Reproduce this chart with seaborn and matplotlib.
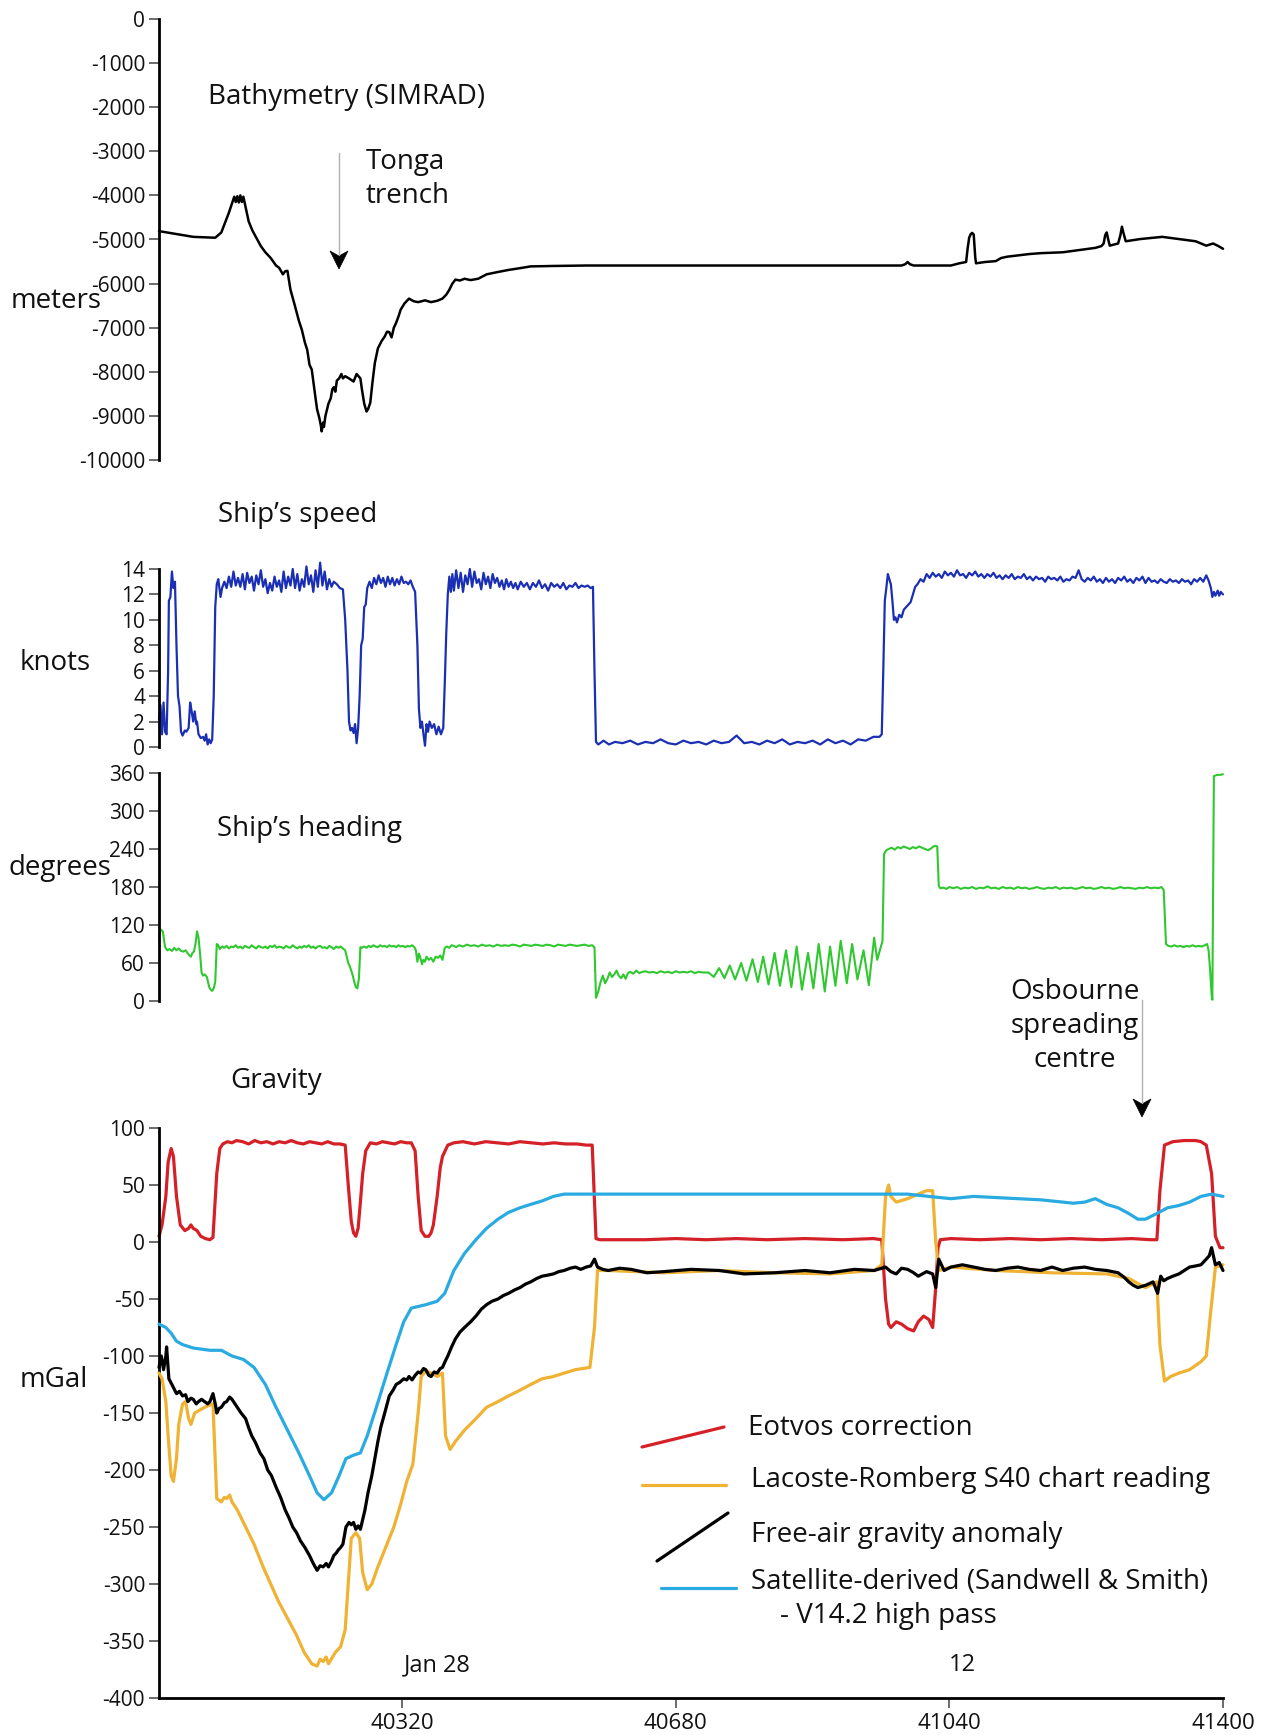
import numpy as np
import matplotlib
matplotlib.use("Agg")
import matplotlib.pyplot as plt
import seaborn as sns
from matplotlib.lines import Line2D
from matplotlib.patches import Polygon

# ---------------- data ----------------
bathymetry = [
    (40000, -4810), (40045, -4940), (40074, -4960), (40082, -4840), (40092, -4390),
    (40099, -4030), (40101, -4150), (40103, -4020), (40105, -4160), (40107, -4000),
    (40109, -4150), (40111, -4030), (40118, -4590), (40123, -4800), (40128, -4960),
    (40134, -5150), (40140, -5290), (40147, -5420), (40154, -5590), (40158, -5640),
    (40163, -5790), (40166, -5720), (40169, -5710), (40173, -6140), (40178, -6450),
    (40184, -6840), (40188, -7050), (40192, -7340), (40195, -7500), (40198, -7840),
    (40201, -7950), (40204, -8350), (40206, -8600), (40208, -8850), (40211, -9050),
    (40213, -9220), (40214, -9350), (40216, -9150), (40217, -9250), (40219, -9000),
    (40223, -8720), (40226, -8600), (40228, -8400), (40230, -8350), (40232, -8450),
    (40234, -8200), (40237, -8150), (40240, -8050), (40242, -8150), (40245, -8100),
    (40250, -8150), (40256, -8220), (40260, -8050), (40265, -8150), (40267, -8400),
    (40270, -8720), (40273, -8900), (40275, -8850), (40278, -8700), (40281, -8220),
    (40284, -7800), (40288, -7470), (40293, -7300), (40297, -7200), (40300, -7090),
    (40303, -7100), (40306, -7220), (40309, -7000), (40312, -6890), (40315, -6750),
    (40318, -6590), (40323, -6450), (40329, -6340), (40335, -6400), (40341, -6420),
    (40350, -6380), (40358, -6420), (40366, -6390), (40373, -6340), (40378, -6250),
    (40382, -6140), (40386, -6000), (40390, -5910), (40396, -5930), (40402, -5890),
    (40410, -5920), (40420, -5890), (40431, -5790), (40445, -5740), (40460, -5690),
    (40475, -5650), (40489, -5610), (40520, -5600), (40562, -5590), (40650, -5590),
    (40723, -5590), (40820, -5590), (40927, -5590), (40977, -5590), (40982, -5560),
    (40985, -5510), (40988, -5560), (40993, -5590), (41042, -5590), (41053, -5540),
    (41062, -5510), (41064, -5200), (41066, -4960), (41068, -4880), (41070, -4850),
    (41072, -4890), (41074, -5400), (41075, -5540), (41087, -5510), (41101, -5490),
    (41108, -5420), (41116, -5390), (41130, -5360), (41145, -5330), (41160, -5310),
    (41175, -5300), (41189, -5290), (41210, -5240), (41232, -5190), (41240, -5150),
    (41243, -5090), (41245, -4900), (41247, -4840), (41249, -5000), (41251, -5140),
    (41262, -5090), (41265, -4900), (41267, -4710), (41269, -4850), (41272, -5040),
    (41291, -4990), (41320, -4940), (41342, -4990), (41364, -5040), (41378, -5140),
    (41387, -5090), (41394, -5150), (41400, -5210),
]

speed = [
    (40000, 2.2), (40002, 3.3), (40004, 1.0), (40006, 3.5), (40008, 1.2), (40010, 1.0),
    (40012, 6.0), (40013, 11.5), (40015, 11.8), (40017, 13.8), (40019, 12.5), (40021, 13.0),
    (40023, 8.0), (40025, 4.0), (40027, 3.2), (40029, 1.2), (40031, 0.9), (40034, 1.3),
    (40036, 1.2), (40039, 1.5), (40041, 3.5), (40043, 2.8), (40045, 2.0), (40047, 2.8),
    (40049, 1.8), (40050, 2.0), (40052, 1.0), (40055, 0.7), (40058, 0.8), (40060, 0.5),
    (40062, 1.0), (40064, 0.2), (40066, 0.6), (40068, 0.3), (40070, 0.6), (40072, 4.0),
    (40074, 11.0), (40076, 12.8), (40078, 13.2), (40081, 11.8), (40083, 12.5),
    (40086, 13.0), (40089, 12.5), (40092, 13.4), (40095, 12.6), (40098, 13.8), (40101, 12.7),
    (40104, 13.3), (40107, 12.6), (40110, 13.6), (40113, 12.4), (40116, 13.7), (40119, 12.9),
    (40122, 13.4), (40125, 12.3), (40128, 13.5), (40131, 12.8), (40134, 13.9), (40137, 12.6),
    (40140, 13.2), (40143, 12.1), (40146, 12.9), (40149, 12.3), (40152, 13.4), (40155, 12.6),
    (40158, 13.1), (40161, 12.2), (40164, 13.8), (40167, 12.5), (40170, 13.4), (40173, 12.7),
    (40176, 14.0), (40179, 12.5), (40182, 13.6), (40185, 12.3), (40188, 13.2), (40191, 12.6),
    (40194, 14.2), (40197, 12.8), (40200, 13.5), (40203, 12.2), (40206, 13.9), (40209, 12.6),
    (40212, 14.5), (40215, 12.7), (40218, 13.8), (40221, 12.4), (40224, 13.2), (40227, 12.6),
    (40230, 13.0), (40234, 12.8), (40238, 12.5), (40242, 12.4), (40245, 10.0), (40248, 6.0),
    (40250, 2.0), (40252, 1.3), (40254, 1.5), (40256, 1.1), (40258, 1.8), (40260, 0.3),
    (40262, 1.5), (40264, 4.0), (40266, 8.0), (40268, 8.5), (40270, 11.0), (40272, 11.2),
    (40274, 12.5), (40277, 13.0), (40280, 12.5), (40283, 13.3), (40286, 12.8), (40289, 13.5),
    (40292, 12.9), (40295, 13.3), (40298, 12.6), (40301, 13.4), (40304, 12.8), (40307, 13.3),
    (40310, 12.7), (40313, 13.2), (40316, 12.8), (40319, 13.4), (40322, 12.9), (40325, 13.0),
    (40328, 12.8), (40331, 13.1), (40334, 12.6), (40337, 12.2), (40340, 8.0), (40342, 3.0),
    (40344, 1.5), (40346, 2.0), (40348, 1.0), (40350, 0.1), (40352, 1.8), (40354, 1.2),
    (40356, 2.0), (40359, 1.5), (40362, 1.8), (40365, 1.0), (40368, 1.6), (40371, 1.0),
    (40374, 1.5), (40376, 5.0), (40378, 9.0), (40380, 12.0), (40382, 13.4), (40384, 12.2),
    (40386, 13.6), (40388, 12.3), (40391, 13.9), (40394, 12.5), (40397, 13.7), (40400, 12.2),
    (40403, 13.5), (40406, 12.8), (40409, 14.0), (40412, 12.6), (40415, 13.8), (40418, 12.9),
    (40421, 13.2), (40424, 12.4), (40427, 13.7), (40430, 12.8), (40433, 13.4), (40436, 12.5),
    (40439, 13.6), (40442, 12.9), (40445, 13.3), (40448, 12.6), (40451, 13.1), (40454, 12.4),
    (40457, 13.2), (40460, 12.6), (40463, 13.0), (40466, 12.5), (40469, 12.9), (40472, 12.4),
    (40476, 13.0), (40480, 12.6), (40484, 12.9), (40488, 12.4), (40492, 12.9), (40496, 12.6),
    (40500, 13.1), (40504, 12.5), (40508, 12.8), (40512, 12.3), (40516, 12.9), (40520, 12.6),
    (40524, 12.8), (40528, 12.5), (40532, 12.9), (40536, 12.4), (40540, 12.7), (40544, 12.6),
    (40548, 12.9), (40552, 12.5), (40556, 12.7), (40560, 12.6), (40564, 12.7), (40568, 12.5),
    (40571, 12.6), (40573, 6.0), (40575, 0.4), (40578, 0.2), (40585, 0.5), (40592, 0.2),
    (40600, 0.4), (40610, 0.3), (40620, 0.5), (40630, 0.2), (40640, 0.4), (40650, 0.3),
    (40660, 0.6), (40670, 0.3), (40680, 0.2), (40690, 0.5), (40700, 0.3), (40710, 0.4),
    (40720, 0.2), (40730, 0.5), (40740, 0.3), (40750, 0.4), (40760, 0.9), (40770, 0.3),
    (40780, 0.4), (40790, 0.2), (40800, 0.5), (40810, 0.3), (40820, 0.6), (40830, 0.2),
    (40840, 0.4), (40850, 0.3), (40860, 0.5), (40870, 0.2), (40880, 0.6), (40890, 0.3),
    (40900, 0.5), (40910, 0.2), (40920, 0.6), (40930, 0.5), (40940, 0.8), (40948, 0.8),
    (40951, 1.0), (40953, 6.0), (40955, 11.5), (40957, 12.5), (40959, 13.6), (40961, 13.2),
    (40963, 12.8), (40965, 11.5), (40967, 10.0), (40969, 10.2), (40971, 9.8), (40974, 10.4),
    (40977, 10.2), (40980, 10.8), (40983, 11.0), (40986, 11.2), (40989, 11.4), (40992, 12.0),
    (40995, 12.6), (40998, 12.8), (41002, 13.2), (41006, 13.0), (41010, 13.6), (41014, 13.3),
    (41018, 13.7), (41022, 13.4), (41026, 13.6), (41030, 13.3), (41034, 13.8), (41038, 13.5),
    (41042, 13.7), (41046, 13.4), (41050, 13.9), (41054, 13.5), (41058, 13.6), (41062, 13.3),
    (41066, 13.7), (41070, 13.5), (41074, 13.8), (41078, 13.4), (41082, 13.6), (41086, 13.3),
    (41090, 13.6), (41094, 13.4), (41098, 13.7), (41102, 13.3), (41106, 13.5), (41110, 13.2),
    (41114, 13.5), (41118, 13.3), (41122, 13.6), (41126, 13.2), (41130, 13.4), (41134, 13.3),
    (41138, 13.6), (41142, 13.2), (41146, 13.4), (41150, 13.1), (41154, 13.4), (41158, 13.2),
    (41162, 13.3), (41166, 13.0), (41170, 13.4), (41174, 13.2), (41178, 13.3), (41182, 13.1),
    (41186, 13.4), (41190, 13.0), (41194, 13.2), (41198, 13.1), (41202, 13.4), (41206, 13.3),
    (41210, 13.9), (41214, 13.2), (41218, 13.0), (41222, 13.3), (41226, 13.1), (41230, 13.4),
    (41234, 13.0), (41238, 13.2), (41242, 12.9), (41246, 13.3), (41250, 13.0), (41254, 13.2),
    (41258, 12.9), (41262, 13.3), (41266, 13.1), (41270, 13.4), (41274, 13.0), (41278, 13.2),
    (41282, 12.9), (41286, 13.3), (41290, 13.1), (41294, 13.4), (41298, 12.9), (41302, 13.3),
    (41306, 13.0), (41310, 13.1), (41314, 12.9), (41318, 13.2), (41322, 13.0), (41326, 12.9),
    (41330, 13.2), (41334, 13.0), (41338, 13.1), (41342, 12.9), (41346, 13.2), (41350, 13.0),
    (41354, 13.1), (41358, 12.8), (41362, 13.2), (41366, 13.0), (41370, 13.3), (41374, 13.0),
    (41378, 13.5), (41381, 13.1), (41384, 12.5), (41386, 11.8), (41388, 12.2), (41390, 11.9),
    (41393, 12.3), (41395, 11.9), (41397, 12.2), (41400, 12.0),
]

heading = [
    (40000, 100), (40002, 113), (40005, 110), (40008, 85), (40011, 80), (40014, 82),
    (40017, 79), (40020, 84), (40023, 80), (40026, 83), (40029, 79), (40032, 78),
    (40035, 80), (40038, 75), (40040, 72), (40042, 70), (40044, 76), (40046, 78),
    (40048, 90), (40050, 110), (40052, 100), (40054, 75), (40056, 45), (40058, 40),
    (40060, 42), (40063, 38), (40066, 22), (40068, 18), (40070, 16), (40072, 20),
    (40074, 30), (40076, 90), (40078, 88), (40080, 82), (40083, 86), (40086, 84),
    (40089, 87), (40092, 83), (40095, 86), (40098, 85), (40101, 88), (40104, 84),
    (40107, 86), (40110, 83), (40113, 87), (40116, 85), (40119, 84), (40122, 88),
    (40125, 85), (40128, 83), (40131, 87), (40134, 85), (40137, 84), (40140, 86),
    (40143, 83), (40146, 87), (40149, 85), (40152, 88), (40155, 84), (40158, 86),
    (40161, 85), (40164, 83), (40167, 87), (40170, 85), (40173, 84), (40176, 88),
    (40179, 85), (40182, 83), (40185, 86), (40188, 84), (40191, 87), (40194, 85),
    (40197, 88), (40200, 84), (40203, 86), (40206, 83), (40209, 86), (40212, 87),
    (40215, 84), (40218, 85), (40221, 83), (40224, 87), (40227, 85), (40230, 82),
    (40233, 86), (40236, 84), (40239, 86), (40242, 83), (40245, 80), (40247, 70),
    (40249, 60), (40251, 55), (40253, 48), (40255, 40), (40257, 30), (40259, 22),
    (40261, 20), (40263, 35), (40265, 85), (40267, 84), (40270, 86), (40273, 84),
    (40276, 87), (40279, 85), (40282, 88), (40285, 86), (40288, 85), (40291, 88),
    (40294, 86), (40297, 87), (40300, 85), (40303, 88), (40306, 86), (40309, 87),
    (40312, 85), (40315, 88), (40318, 86), (40321, 87), (40324, 85), (40327, 87),
    (40330, 86), (40333, 88), (40336, 85), (40338, 80), (40340, 62), (40342, 75),
    (40344, 68), (40346, 58), (40348, 65), (40350, 62), (40352, 70), (40355, 65),
    (40358, 68), (40361, 62), (40364, 70), (40367, 68), (40370, 72), (40373, 65),
    (40376, 84), (40379, 86), (40382, 84), (40385, 88), (40388, 87), (40391, 85),
    (40395, 88), (40400, 86), (40405, 89), (40410, 87), (40415, 88), (40420, 86),
    (40425, 89), (40430, 87), (40435, 88), (40440, 86), (40445, 89), (40450, 87),
    (40455, 88), (40460, 87), (40465, 89), (40470, 88), (40475, 86), (40480, 89),
    (40485, 88), (40490, 87), (40495, 89), (40500, 88), (40505, 87), (40510, 89),
    (40515, 88), (40520, 86), (40525, 89), (40530, 88), (40535, 87), (40540, 89),
    (40545, 88), (40550, 87), (40555, 88), (40560, 89), (40565, 87), (40570, 88),
    (40573, 85), (40575, 5), (40578, 15), (40581, 30), (40584, 40), (40587, 28),
    (40590, 35), (40593, 45), (40596, 38), (40599, 42), (40602, 48), (40605, 40),
    (40608, 36), (40611, 42), (40614, 35), (40617, 44), (40620, 46), (40624, 43),
    (40628, 48), (40632, 44), (40636, 46), (40640, 47), (40645, 45), (40650, 46),
    (40655, 44), (40660, 47), (40665, 45), (40670, 46), (40675, 44), (40680, 47),
    (40685, 45), (40690, 46), (40695, 45), (40700, 47), (40705, 44), (40710, 46),
    (40716, 45), (40723, 45), (40730, 38), (40737, 52), (40744, 36), (40751, 56),
    (40758, 34), (40766, 60), (40773, 32), (40781, 66), (40788, 30), (40795, 70),
    (40802, 26), (40810, 76), (40817, 24), (40825, 80), (40832, 22), (40839, 86),
    (40846, 18), (40854, 76), (40861, 20), (40868, 90), (40876, 15), (40883, 86),
    (40890, 24), (40897, 95), (40905, 28), (40912, 90), (40919, 34), (40927, 80),
    (40934, 25), (40941, 100), (40945, 65), (40949, 82), (40952, 95), (40954, 232),
    (40957, 238), (40960, 240), (40964, 242), (40968, 239), (40972, 243), (40976, 241),
    (40980, 244), (40984, 242), (40988, 240), (40992, 243), (40996, 241), (41000, 244),
    (41004, 242), (41008, 240), (41012, 238), (41016, 241), (41019, 244), (41022, 245),
    (41024, 244), (41026, 182), (41028, 178), (41032, 179), (41036, 177), (41040, 180),
    (41045, 178), (41050, 180), (41055, 177), (41060, 179), (41065, 178), (41070, 180),
    (41075, 177), (41080, 179), (41085, 178), (41090, 181), (41095, 178), (41100, 179),
    (41105, 177), (41110, 180), (41115, 178), (41120, 179), (41125, 177), (41130, 180),
    (41135, 178), (41140, 179), (41145, 177), (41150, 178), (41155, 180), (41160, 178),
    (41165, 177), (41170, 179), (41175, 178), (41180, 180), (41185, 177), (41190, 179),
    (41195, 178), (41200, 179), (41205, 177), (41210, 178), (41215, 180), (41220, 178),
    (41225, 179), (41230, 177), (41235, 178), (41240, 180), (41245, 178), (41250, 179),
    (41255, 177), (41260, 178), (41265, 180), (41270, 178), (41275, 179), (41280, 178),
    (41285, 177), (41290, 179), (41295, 178), (41300, 180), (41305, 178), (41310, 179),
    (41315, 178), (41319, 180), (41322, 175), (41325, 90), (41328, 87), (41332, 86),
    (41336, 88), (41340, 86), (41344, 87), (41348, 85), (41352, 87), (41356, 86),
    (41360, 88), (41364, 86), (41368, 87), (41372, 86), (41376, 88), (41379, 90),
    (41381, 80), (41383, 50), (41385, 10), (41386, 2), (41388, 355), (41392, 357),
    (41396, 357), (41400, 358),
]

eotvos = [
    (40000, 5), (40004, 15), (40009, 40), (40012, 70), (40016, 82), (40019, 75),
    (40023, 40), (40028, 15), (40034, 10), (40039, 12), (40042, 15), (40045, 12),
    (40050, 10), (40055, 5), (40061, 3), (40067, 2), (40071, 4), (40076, 60),
    (40080, 82), (40084, 86), (40090, 88), (40096, 87), (40102, 89), (40110, 88),
    (40118, 86), (40126, 89), (40134, 87), (40142, 88), (40150, 86), (40158, 88),
    (40166, 87), (40174, 89), (40182, 87), (40190, 86), (40198, 88), (40206, 87),
    (40214, 86), (40222, 88), (40230, 86), (40238, 86), (40245, 85), (40249, 50),
    (40253, 18), (40256, 8), (40259, 5), (40262, 12), (40265, 35), (40268, 60),
    (40272, 80), (40278, 87), (40286, 86), (40294, 88), (40302, 87), (40310, 86),
    (40318, 88), (40326, 87), (40332, 87), (40337, 80), (40341, 40), (40345, 10),
    (40350, 5), (40355, 5), (40358, 8), (40361, 15), (40366, 40), (40370, 65),
    (40373, 75), (40380, 85), (40388, 87), (40400, 88), (40415, 86), (40430, 88),
    (40445, 87), (40460, 86), (40475, 88), (40490, 87), (40505, 86), (40520, 87),
    (40535, 86), (40550, 86), (40562, 85), (40570, 85), (40575, 3), (40580, 2),
    (40600, 2), (40640, 2), (40680, 3), (40720, 2), (40760, 3), (40800, 2),
    (40850, 3), (40900, 2), (40940, 3), (40951, 2), (40956, -50), (40960, -72),
    (40963, -75), (40970, -70), (40977, -72), (40985, -76), (40993, -78), (40999, -70),
    (41006, -65), (41013, -68), (41018, -75), (41022, -40), (41025, -5), (41028, 2),
    (41042, 3), (41080, 2), (41120, 3), (41160, 2), (41200, 3), (41240, 2),
    (41280, 3), (41305, 2), (41313, 2), (41317, 45), (41323, 85), (41334, 88),
    (41349, 89), (41364, 89), (41371, 88), (41378, 85), (41385, 60), (41390, 5),
    (41396, -5), (41400, -5),
]

lacoste = [
    (40000, -115), (40004, -120), (40009, -140), (40012, -170), (40016, -205), (40019, -210),
    (40023, -190), (40026, -160), (40031, -142), (40035, -140), (40039, -155), (40042, -160),
    (40047, -150), (40052, -148), (40060, -145), (40067, -143), (40071, -142), (40076, -225),
    (40082, -228), (40086, -224), (40089, -225), (40093, -222), (40096, -228), (40103, -235),
    (40114, -250), (40125, -265), (40137, -285), (40147, -300), (40157, -315), (40169, -330),
    (40181, -345), (40191, -360), (40201, -370), (40208, -372), (40212, -366), (40216, -368),
    (40220, -364), (40223, -370), (40232, -360), (40239, -355), (40245, -340), (40249, -300),
    (40253, -260), (40259, -255), (40264, -260), (40268, -290), (40274, -305), (40280, -300),
    (40288, -285), (40300, -265), (40309, -250), (40318, -230), (40326, -210), (40334, -195),
    (40341, -150), (40345, -118), (40351, -113), (40358, -115), (40366, -118), (40373, -115),
    (40377, -170), (40383, -182), (40390, -175), (40402, -165), (40417, -155), (40431, -145),
    (40446, -140), (40460, -135), (40475, -130), (40489, -125), (40504, -120), (40519, -118),
    (40533, -115), (40548, -112), (40567, -110), (40573, -75), (40577, -25), (40591, -25),
    (40664, -27), (40737, -25), (40810, -27), (40883, -28), (40941, -25), (40951, -20),
    (40956, 40), (40960, 50), (40963, 40), (40970, 35), (40985, 38), (40999, 42),
    (41010, 45), (41018, 45), (41022, 0), (41026, -25), (41042, -22), (41101, -25),
    (41174, -27), (41247, -28), (41276, -32), (41298, -40), (41313, -35), (41317, -90),
    (41323, -122), (41331, -118), (41342, -115), (41356, -112), (41371, -105), (41378, -100),
    (41384, -60), (41390, -22), (41400, -20),
]

free_air = [
    (40000, -110), (40003, -100), (40006, -112), (40009, -100), (40010, -92), (40013, -120),
    (40017, -125), (40023, -133), (40027, -131), (40031, -135), (40035, -134), (40038, -140),
    (40042, -137), (40045, -138), (40049, -142), (40052, -140), (40056, -138), (40060, -140),
    (40064, -142), (40067, -140), (40071, -133), (40074, -142), (40076, -150), (40079, -146),
    (40082, -145), (40086, -141), (40089, -140), (40093, -136), (40096, -138), (40100, -142),
    (40103, -145), (40108, -150), (40114, -155), (40118, -163), (40122, -170), (40127, -176),
    (40133, -185), (40138, -190), (40143, -200), (40148, -205), (40154, -215), (40160, -224),
    (40166, -235), (40171, -242), (40176, -250), (40181, -255), (40186, -262), (40192, -268),
    (40198, -275), (40203, -282), (40208, -288), (40212, -284), (40216, -285), (40220, -282),
    (40223, -285), (40227, -280), (40230, -275), (40233, -273), (40236, -270), (40239, -268),
    (40242, -265), (40246, -250), (40250, -246), (40253, -248), (40256, -246), (40259, -252),
    (40262, -249), (40265, -252), (40271, -235), (40275, -220), (40280, -205), (40284, -190),
    (40288, -175), (40292, -162), (40297, -150), (40303, -135), (40308, -130), (40312, -125),
    (40317, -123), (40322, -120), (40326, -121), (40329, -118), (40333, -121), (40337, -117),
    (40341, -114), (40344, -115), (40348, -111), (40351, -112), (40355, -117), (40358, -118),
    (40362, -114), (40366, -115), (40370, -111), (40373, -110), (40377, -104), (40380, -100),
    (40385, -92), (40390, -85), (40396, -79), (40402, -75), (40410, -70), (40417, -65),
    (40424, -59), (40431, -55), (40438, -52), (40446, -50), (40453, -47), (40460, -45),
    (40468, -42), (40475, -40), (40482, -37), (40489, -35), (40497, -32), (40504, -30),
    (40512, -29), (40519, -28), (40526, -26), (40533, -25), (40541, -23), (40548, -22),
    (40555, -24), (40562, -22), (40568, -21), (40573, -15), (40577, -22), (40584, -24),
    (40591, -25), (40606, -23), (40621, -24), (40642, -27), (40664, -26), (40700, -24),
    (40737, -25), (40770, -28), (40810, -27), (40850, -25), (40883, -27), (40915, -24),
    (40941, -25), (40956, -22), (40963, -26), (40970, -28), (40977, -23), (40985, -24),
    (40993, -27), (40999, -30), (41010, -26), (41018, -28), (41022, -40), (41026, -15),
    (41033, -25), (41042, -22), (41057, -20), (41072, -22), (41087, -24), (41101, -25),
    (41116, -23), (41130, -22), (41145, -24), (41160, -25), (41175, -22), (41189, -25),
    (41203, -23), (41218, -22), (41232, -24), (41247, -25), (41262, -27), (41270, -31),
    (41276, -35), (41282, -38), (41288, -40), (41298, -38), (41308, -35), (41314, -45),
    (41318, -30), (41322, -34), (41327, -32), (41334, -30), (41342, -28), (41349, -25),
    (41356, -22), (41364, -21), (41371, -20), (41378, -15), (41382, -12), (41385, -5),
    (41390, -20), (41395, -18), (41400, -25),
]

satellite = [
    (40000, -72), (40009, -75), (40016, -80), (40023, -87), (40031, -90), (40045, -93),
    (40067, -95), (40082, -95), (40096, -100), (40111, -103), (40125, -110), (40140, -125),
    (40154, -145), (40169, -165), (40184, -185), (40198, -205), (40208, -220), (40217, -226),
    (40227, -220), (40237, -205), (40246, -190), (40256, -187), (40265, -185), (40274, -170),
    (40286, -145), (40300, -115), (40312, -90), (40322, -70), (40332, -58), (40351, -55),
    (40366, -52), (40376, -45), (40388, -25), (40402, -10), (40417, 2), (40431, 12),
    (40446, 20), (40460, 26), (40475, 30), (40489, 33), (40504, 36), (40519, 40),
    (40533, 42), (40548, 42), (40600, 42), (40700, 42), (40800, 42), (40900, 42),
    (40985, 42), (41013, 40), (41042, 38), (41072, 40), (41101, 39), (41130, 38),
    (41160, 37), (41189, 35), (41203, 34), (41218, 35), (41232, 38), (41247, 33),
    (41262, 30), (41276, 25), (41288, 20), (41298, 20), (41313, 25), (41327, 30),
    (41342, 32), (41356, 35), (41371, 40), (41385, 42), (41400, 40),
]

bathy_ticks = list(range(0, -10001, -1000))
speed_ticks = list(range(0, 15, 2))
heading_ticks = list(range(0, 361, 60))
gravity_ticks = list(range(-400, 101, 50))
x_ticks = [40320, 40680, 41040, 41400]
x_range = (40000, 41400)

legend_labels = ["Eotvos correction", "Lacoste-Romberg S40 chart reading",
                 "Free-air gravity anomaly",
                 "Satellite-derived (Sandwell & Smith)\n    - V14.2 high pass"]

# ---------------- styling ----------------
sns.set_theme(style="white")
plt.rcParams["font.family"] = ["Open Sans", "DejaVu Sans"]
plt.rcParams["axes.unicode_minus"] = False

C_BLUE = "#1b2fb4"
C_GREEN = "#2fc82f"
C_RED = "#d42027"
C_ORANGE = "#efb233"
C_CYAN = "#29abe2"
NARROW = ["Liberation Sans Narrow", "Open Sans", "DejaVu Sans"]

W, H = 1264, 1735
fig = plt.figure(figsize=(W / 100, H / 100), dpi=100)
fig.patch.set_facecolor("white")


def rect(top, bottom, left=159, right=1223):
    return [left / W, 1 - bottom / H, (right - left) / W, (bottom - top) / H]


def fx(x):
    return x / W


def fy(y):
    return 1 - y / H


ax_b = fig.add_axes(rect(19, 460))
ax_s = fig.add_axes(rect(569, 747))
ax_h = fig.add_axes(rect(773, 1001))
ax_g = fig.add_axes(rect(1128, 1698))


def style(ax, ylim, yticks, bottom=False):
    ax.set_facecolor("none")
    ax.set_xlim(*x_range)
    ax.set_ylim(*ylim)
    ax.set_yticks(yticks)
    for s in ["top", "right"]:
        ax.spines[s].set_visible(False)
    ax.spines["left"].set_linewidth(2.0)
    ax.spines["left"].set_color("black")
    ax.spines["bottom"].set_visible(bottom)
    ax.spines["bottom"].set_linewidth(2.0)
    ax.spines["bottom"].set_color("black")
    ax.tick_params(axis="y", which="both", left=True, direction="out", length=7,
                   width=1.1, color="#444444", labelsize=15, pad=3, labelcolor="#111111")
    if bottom:
        ax.set_xticks(x_ticks)
        ax.tick_params(axis="x", bottom=True, direction="out", length=7, width=1.1,
                       color="#444444", labelsize=16, pad=4, labelcolor="#111111")
        for lab in ax.get_xticklabels():
            lab.set_family(NARROW)
    else:
        ax.set_xticks([])
    ax.set_xlabel("")
    ax.set_ylabel("")
    ax.grid(False)


def line(ax, data, color, lw, z=2):
    arr = np.array(data, dtype=float)
    sns.lineplot(x=arr[:, 0], y=arr[:, 1], ax=ax, color=color, linewidth=lw,
                 estimator=None, sort=False, clip_on=False, zorder=z)


line(ax_b, bathymetry, "black", 1.8)
style(ax_b, (-10000, 0), bathy_ticks)

line(ax_s, speed, C_BLUE, 1.6)
style(ax_s, (0, 14), speed_ticks)

line(ax_h, heading, C_GREEN, 1.5)
style(ax_h, (0, 360), heading_ticks)

line(ax_g, eotvos, C_RED, 2.3, 2)
line(ax_g, lacoste, C_ORANGE, 2.3, 3)
line(ax_g, satellite, C_CYAN, 2.3, 4)
line(ax_g, free_air, "black", 2.3, 5)
style(ax_g, (-400, 100), gravity_ticks, bottom=True)

# ---------------- texts ----------------
TF = 20


def t(x, y, s, size=TF, ha="left", **kw):
    fig.text(fx(x), fy(y), s, fontsize=size, ha=ha, va="center", color="#111111", **kw)


t(208, 97, "Bathymetry (SIMRAD)")
t(366, 179, "Tonga\ntrench", linespacing=1.3)
t(11, 301, "meters")
t(218, 515, "Ship\u2019s speed")
t(20, 663, "knots")
t(217, 829, "Ship\u2019s heading")
t(8, 868, "degrees")
t(230, 1081, "Gravity")
t(1075, 1026, "Osbourne\nspreading\ncentre", ha="center", linespacing=1.3)
t(20, 1380, "mGal")
t(437, 1665, "Jan 28", size=17, ha="center")
t(962, 1665, "12", size=17, ha="center")

# arrows
for (ax_x, y_top, y_head, y_tip) in [(339, 153, 251, 269), (1142, 1000, 1099, 1117)]:
    fig.add_artist(Line2D([fx(ax_x), fx(ax_x)], [fy(y_top), fy(y_head + 4)],
                          color="#b0b0b0", lw=1.0, transform=fig.transFigure))
    fig.add_artist(Polygon([(fx(ax_x - 9), fy(y_head)), (fx(ax_x), fy(y_head + 5)),
                            (fx(ax_x + 9), fy(y_head)), (fx(ax_x), fy(y_tip))],
                           closed=True, facecolor="black", edgecolor="black", lw=0.5,
                           transform=fig.transFigure))

# legend (manual, as in the reference)
leg_lines = [
    ((642, 1447), (724, 1427), C_RED),
    ((642, 1485), (726, 1485), C_ORANGE),
    ((657, 1561), (728, 1513), "black"),
    ((661, 1588), (736, 1588), C_CYAN),
]
for (p0, p1, c) in leg_lines:
    fig.add_artist(Line2D([fx(p0[0]), fx(p1[0])], [fy(p0[1]), fy(p1[1])], color=c,
                          lw=2.3, transform=fig.transFigure))
t(748, 1428, legend_labels[0])
t(751, 1480, legend_labels[1])
t(751, 1535, legend_labels[2])
t(751, 1599, legend_labels[3], linespacing=1.3)

fig.savefig("out.png", dpi=100, facecolor="white")
